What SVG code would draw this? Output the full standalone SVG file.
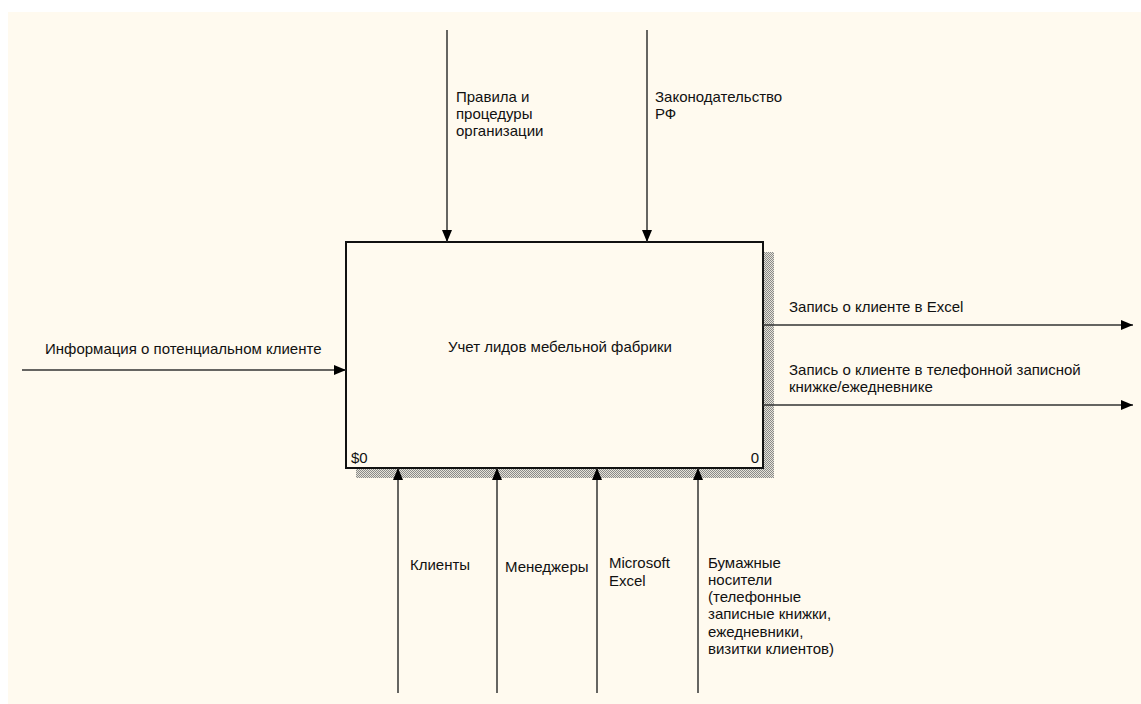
<svg xmlns="http://www.w3.org/2000/svg" width="1141" height="704" viewBox="0 0 1141 704">
<defs>
<style>
text{font-family:"Liberation Sans",Arial,sans-serif;font-size:15px;fill:#111}
.ln{stroke:#333;stroke-width:1.5;fill:none}
</style>
<pattern id="hatch" width="2" height="2" patternUnits="userSpaceOnUse">
<rect width="2" height="2" fill="#e6e3d8"/>
<rect width="1" height="1" fill="#8a8a8a"/>
<rect x="1" y="1" width="1" height="1" fill="#8a8a8a"/>
</pattern>
<marker id="ah" viewBox="0 0 12 10" refX="12" refY="5" markerWidth="12" markerHeight="10" markerUnits="userSpaceOnUse" orient="auto">
<path d="M0,0 L12,5 L0,10 Z" fill="#000"/>
</marker>
</defs>
<rect x="0" y="0" width="1141" height="704" fill="#fff"/>
<rect x="8" y="12" width="1133" height="692" fill="#FFFAEF"/>
<g id="node-main">
<rect x="764" y="252" width="10" height="226" fill="url(#hatch)"/>
<rect x="356" y="469" width="418" height="9" fill="url(#hatch)"/>
<rect x="346" y="242" width="417" height="226" fill="#FFFAEF" stroke="#111" stroke-width="2"/>
<text x="560" y="352" text-anchor="middle">Учет лидов мебельной фабрики</text>
<text x="351" y="463">$0</text>
<text x="759" y="463" text-anchor="end">0</text>
</g>
<g id="connectors">
<line class="ln" x1="447" y1="30" x2="447" y2="242" marker-end="url(#ah)"/>
<line class="ln" x1="647" y1="30" x2="647" y2="242" marker-end="url(#ah)"/>
<line class="ln" x1="22" y1="370" x2="346" y2="370" marker-end="url(#ah)"/>
<line class="ln" x1="763" y1="325" x2="1133" y2="325" marker-end="url(#ah)"/>
<line class="ln" x1="763" y1="405" x2="1133" y2="405" marker-end="url(#ah)"/>
<line class="ln" x1="398" y1="693" x2="398" y2="468" marker-end="url(#ah)"/>
<line class="ln" x1="497" y1="693" x2="497" y2="468" marker-end="url(#ah)"/>
<line class="ln" x1="597" y1="693" x2="597" y2="468" marker-end="url(#ah)"/>
<line class="ln" x1="698" y1="693" x2="698" y2="468" marker-end="url(#ah)"/>
</g>
<g id="labels">
<text x="456" y="102">Правила и</text>
<text x="456" y="119">процедуры</text>
<text x="456" y="136">организации</text>
<text x="655" y="102">Законодательство</text>
<text x="655" y="119">РФ</text>
<text x="45" y="354">Информация о потенциальном клиенте</text>
<text x="789" y="312">Запись о клиенте в Excel</text>
<text x="789" y="375">Запись о клиенте в телефонной записной</text>
<text x="789" y="392">книжке/ежедневнике</text>
<text x="410" y="570">Клиенты</text>
<text x="505" y="572">Менеджеры</text>
<text x="609" y="568">Microsoft</text>
<text x="609" y="586">Excel</text>
<text x="708" y="568">Бумажные</text>
<text x="708" y="585">носители</text>
<text x="708" y="602">(телефонные</text>
<text x="708" y="619">записные книжки,</text>
<text x="708" y="637">ежедневники,</text>
<text x="708" y="654">визитки клиентов)</text>
</g>
</svg>
